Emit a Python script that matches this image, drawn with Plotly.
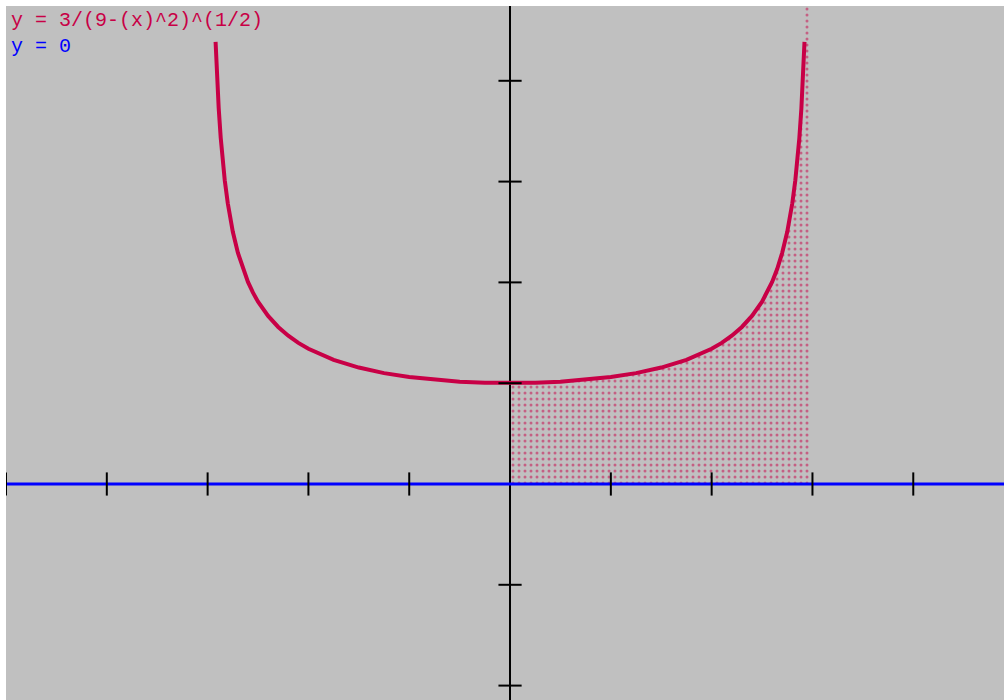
import plotly.graph_objects as go

# Colours
COLORS = {
    'curve': '#c80046',
    'axis_blue': '#0000ff',
    'axis_black': '#000000',
    'plot_bg': '#c0c0c0',
    'paper_bg': '#ffffff',
}

# Curve samples (y = 3/(9-x^2)^(1/2))
curve_x = [-2.921, -2.91, -2.9, -2.89, -2.87, -2.85, -2.83, -2.8, -2.75, -2.7,
           -2.65, -2.6, -2.55, -2.5, -2.4, -2.3, -2.2, -2.1, -2.0, -1.75,
           -1.5, -1.25, -1.0, -0.75, -0.5, -0.25, 0.0,
           0.25, 0.5, 0.75, 1.0, 1.25, 1.5, 1.75, 2.0, 2.1, 2.2,
           2.3, 2.4, 2.5, 2.55, 2.6, 2.65, 2.7, 2.75, 2.8, 2.83,
           2.85, 2.87, 2.89, 2.9, 2.91, 2.921]
curve_y = [4.386, 4.113, 3.906, 3.727, 3.434, 3.203, 3.013, 2.785, 2.502, 2.294,
           2.133, 2.005, 1.898, 1.809, 1.667, 1.558, 1.471, 1.400, 1.342, 1.231,
           1.155, 1.100, 1.061, 1.033, 1.014, 1.004, 1.000,
           1.004, 1.014, 1.033, 1.061, 1.100, 1.155, 1.231, 1.342, 1.400, 1.471,
           1.558, 1.667, 1.809, 1.898, 2.005, 2.133, 2.294, 2.502, 2.785, 3.013,
           3.203, 3.434, 3.727, 3.906, 4.113, 4.386]

# Shaded integral region: from x = 0 to just short of x = 3
shade_start = 0.0
shade_end = 2.98
shade_top = 6.0

# Axis ticks
x_ticks = [-5, -4, -3, -2, -1, 1, 2, 3, 4]
y_ticks = [-2, -1, 1, 2, 3, 4]

x_range = [-5.0, 4.90]
y_range = [-2.143, 4.742]

fig = go.Figure()

# Shaded area under the curve (stippled)
shade_pts = [(x, y) for x, y in zip(curve_x, curve_y) if x >= shade_start]
sx = [p[0] for p in shade_pts] + [shade_pts[-1][0], shade_end]
sy = [p[1] for p in shade_pts] + [shade_top, shade_top]
fig.add_trace(go.Scatter(
    x=sx, y=sy,
    mode='lines',
    line=dict(width=0),
    fill='tozeroy',
    fillcolor='rgba(0,0,0,0)',
    fillpattern=dict(shape='.', fgcolor=COLORS['curve'], bgcolor='rgba(0,0,0,0)',
                     size=6, solidity=0.2),
    hoverinfo='skip',
    showlegend=False,
))

# y = 0 line
fig.add_trace(go.Scatter(
    x=x_range, y=[0, 0],
    mode='lines',
    line=dict(color=COLORS['axis_blue'], width=3),
    showlegend=False,
))

# The curve
fig.add_trace(go.Scatter(
    x=curve_x, y=curve_y,
    mode='lines',
    line=dict(color=COLORS['curve'], width=4),
    showlegend=False,
))

# Tick marks crossing the axes
tick_half = 0.115
for t in x_ticks:
    fig.add_shape(type='line', x0=t, x1=t, y0=-tick_half, y1=tick_half,
                  line=dict(color=COLORS['axis_black'], width=2), layer='above')
for t in y_ticks:
    fig.add_shape(type='line', x0=-tick_half, x1=tick_half, y0=t, y1=t,
                  line=dict(color=COLORS['axis_black'], width=2), layer='above')

# Legend-like labels in the corner
font_mono = 'Courier New, Liberation Mono, monospace'
fig.add_annotation(xref='paper', yref='paper', x=0, y=1, xanchor='left', yanchor='top',
                   xshift=3, yshift=-1, showarrow=False,
                   text='y = 3/(9-(x)^2)^(1/2)',
                   font=dict(family=font_mono, size=20, color=COLORS['curve']))
fig.add_annotation(xref='paper', yref='paper', x=0, y=1, xanchor='left', yanchor='top',
                   xshift=3, yshift=-27, showarrow=False,
                   text='y = 0',
                   font=dict(family=font_mono, size=20, color=COLORS['axis_blue']))

fig.update_layout(
    width=1004, height=700,
    margin=dict(l=6, r=0, t=6, b=0),
    plot_bgcolor=COLORS['plot_bg'],
    paper_bgcolor=COLORS['paper_bg'],
    xaxis=dict(range=x_range, showgrid=False, showticklabels=False, ticks='',
               zeroline=True, zerolinecolor=COLORS['axis_black'], zerolinewidth=2),
    yaxis=dict(range=y_range, showgrid=False, showticklabels=False, ticks='',
               zeroline=False),
    hovermode=False,
)

# drop the default page margin so the figure sits at the window's corner
fig.write_html("out.html", config={'displayModeBar': False},
               post_script="document.body.style.margin='0';")
